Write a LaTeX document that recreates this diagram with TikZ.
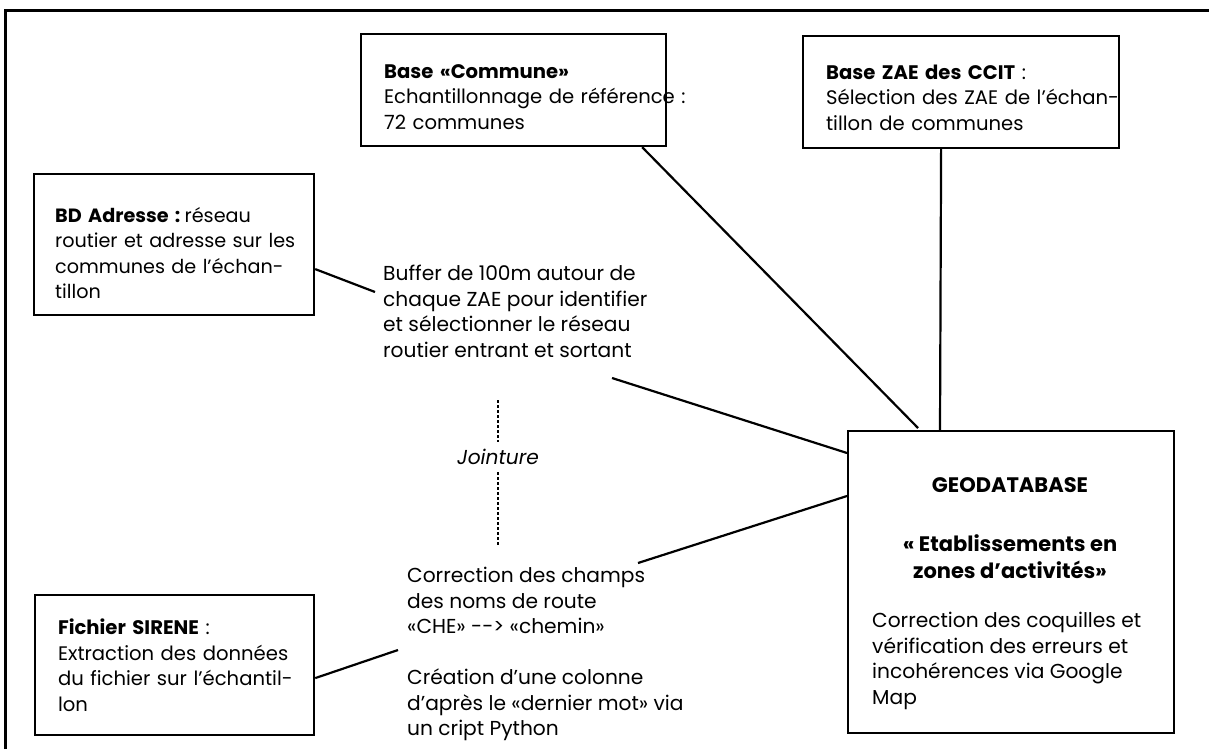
\documentclass[tikz,border=0pt]{standalone}
\usepackage{fontspec}
\setmainfont{Poppins}
\newcommand{\oneline}[1]{\mbox{#1}}
\begin{document}
\begin{tikzpicture}[x=1pt,y=-1pt,
  txt/.style={font=\fontsize{20.2}{25.5}\selectfont, inner sep=0pt, align=left},
  box/.style={draw, line width=2.2pt, anchor=north west, inner ysep=0pt, inner xsep=23pt,
    font=\fontsize{19.6}{25.5}\selectfont, align=left},
  link/.style={line width=2.2pt},
  dots/.style={line width=2.8pt, dash pattern=on 2.6pt off 2.4pt}]
\useasboundingbox (0,0) rectangle (1209,749);
\draw[line width=3pt] (5,749) -- (5,11) -- (1209,11);

\node[box, text width=259pt, minimum height=112pt] (bc) at (360,33)
  {\oneline{\rule{0pt}{27pt}\textbf{Base «Commune»}}\\\oneline{Echantillonnage de référence :}\\\oneline{72 communes}};
\node[box, text width=270pt, minimum height=112pt] (zae) at (802,35)
  {\oneline{\rule{0pt}{25pt}\textbf{Base ZAE des CCIT} :}\\\oneline{Sélection des ZAE de l’échan-}\\\oneline{tillon de communes}};
\node[box, inner xsep=21pt, text width=238pt, minimum height=141pt, font=\fontsize{19.2}{25.5}\selectfont] (bd) at (33,173)
  {\oneline{\rule{0pt}{32pt}\textbf{BD Adresse :}\hspace{0.22em}réseau}\\\oneline{routier et adresse sur les}\\\oneline{communes de l’échan-}\\\oneline{tillon}};
\node[box, text width=233pt, minimum height=140pt] (sir) at (34,594)
  {\oneline{\textbf{Fichier SIRENE} :}\\\oneline{Extraction des données}\\\oneline{du fichier sur l’échantil-}\\\oneline{lon}};
\node[draw, line width=2.2pt, anchor=north west, minimum width=326pt, minimum height=302pt, inner sep=0pt] (geo) at (847,430) {};

\node[txt, font=\bfseries\fontsize{21}{26}\selectfont] (geot) at (1010,485) {GEODATABASE};
\node[txt, align=center, font=\bfseries\fontsize{21}{27}\selectfont] (geos) at (1010,557) {« Etablissements en\\zones d’activités»};
\node[txt, anchor=north west] (geod) at (872,612)
  {Correction des coquilles et\\vérification des erreurs et\\incohérences via Google\\Map};

\node[txt, anchor=north west] (buf) at (383,265)
  {Buffer de 100m autour de\\chaque ZAE pour identifier\\et sélectionner le réseau\\routier entrant et sortant};
\node[txt, anchor=north west] (corr) at (407,567)
  {Correction des champs\\des noms de route\\«CHE» -{}-{}> «chemin»\\[25.5pt]Création d’une colonne\\d’après le «dernier mot» via\\un cript Python};
\node[txt, font=\itshape\fontsize{20.2}{25}\selectfont] (joint) at (498,457) {Jointure};

\coordinate (bufin) at (375,292);
\coordinate (bufout) at (612,378);
\coordinate (corrin) at (398,650);
\coordinate (corrout) at (638,563);
\coordinate (jtop) at (498,400);
\coordinate (jbot) at (498,546);

\draw[link] ([xshift=-25pt]bc.south east) -- ([xshift=71pt,yshift=2pt]geo.north west);
\draw[link] ([xshift=-20pt]zae.south) -- ([xshift=93pt]geo.north west);
\draw[link] ([yshift=-24.5pt]bd.east) -- (bufin);
\draw[link] (bufout) -- ([yshift=-23pt]geo.north west);
\draw[link] (corrout) -- ([yshift=-66pt]geo.north west);
\draw[link] ([yshift=-13pt]sir.east) -- (corrin);
\draw[dots] (jtop) -- (joint.north |- 0,442);
\draw[dots] (joint.south |- 0,472) -- (jbot);
\end{tikzpicture}
\end{document}
